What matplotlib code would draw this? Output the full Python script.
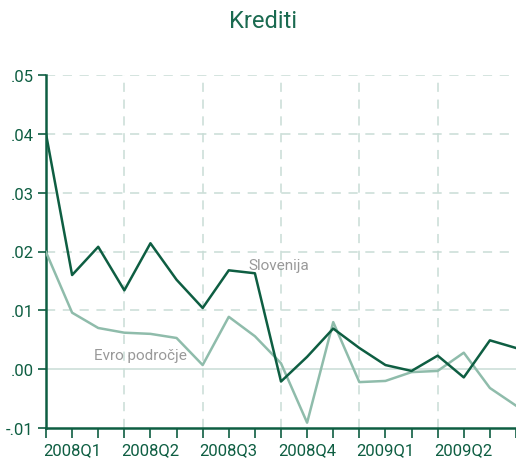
import matplotlib.pyplot as plt
import numpy as np

# monthly data, Jan 2008 .. Jul 2009
months = ['2008-01', '2008-02', '2008-03', '2008-04', '2008-05', '2008-06',
          '2008-07', '2008-08', '2008-09', '2008-10', '2008-11', '2008-12',
          '2009-01', '2009-02', '2009-03', '2009-04', '2009-05', '2009-06',
          '2009-07']
slovenija = [0.0400, 0.0160, 0.0208, 0.0134, 0.0214, 0.0152, 0.0104, 0.0168,
             0.0163, -0.0021, 0.0021, 0.0069, 0.0036, 0.0007, -0.0003,
             0.0023, -0.0014, 0.0049, 0.0036]
evro = [0.0199, 0.0096, 0.0070, 0.0062, 0.0060, 0.0053, 0.0007, 0.0089,
        0.0056, 0.0010, -0.0091, 0.0080, -0.0022, -0.0020, -0.0005,
        -0.0003, 0.0028, -0.0032, -0.0062]
quarters = ['2008Q1', '2008Q2', '2008Q3', '2008Q4', '2009Q1', '2009Q2']
yticks = [-0.01, 0.0, 0.01, 0.02, 0.03, 0.04, 0.05]
ylabels = ['-.01', '.00', '.01', '.02', '.03', '.04', '.05']

dark = '#0e5e42'
light = '#8fbcab'
grid = '#c9ddd6'

plt.rcParams['font.family'] = ['Roboto', 'DejaVu Sans']

fig = plt.figure(figsize=(5.16, 4.60), dpi=100)
ax = fig.add_axes([46 / 516, 31 / 460, 470 / 516, 353 / 460])

x = np.arange(len(months))

# grid
for yv in yticks[2:]:
    ax.axhline(yv, color=grid, lw=1.1, ls=(0, (6, 5)), zorder=1)
ax.axhline(0, color=grid, lw=1.1, zorder=1)
for q in range(1, len(quarters)):
    ax.axvline(3 * q, color=grid, lw=1.1, ls=(0, (6, 5)), zorder=1)

ax.plot(x, evro, color=light, lw=1.8, zorder=3)
ax.plot(x, slovenija, color=dark, lw=1.8, zorder=4)

ax.text(8.9, 0.0177, 'Slovenija', color='#999999', fontsize=11, ha='center', va='center')
ax.text(3.6, 0.0024, 'Evro področje', color='#999999', fontsize=11, ha='center', va='center')

ax.set_xlim(0, len(months) - 1)
ax.set_ylim(-0.01, 0.05)
ax.set_yticks(yticks)
ax.set_yticklabels(ylabels)
ax.set_xticks(x, minor=True)
ax.set_xticks([3 * q + 1 for q in range(len(quarters))])
ax.set_xticklabels(quarters)

for side in ['top', 'right']:
    ax.spines[side].set_visible(False)
for side in ['left', 'bottom']:
    ax.spines[side].set_color(dark)
    ax.spines[side].set_linewidth(1.8)

ax.tick_params(axis='both', colors=dark, labelcolor=dark, labelsize=12, width=1.2)
ax.tick_params(axis='x', which='major', length=7, pad=3)
ax.tick_params(axis='x', which='minor', length=7, width=1.2, color=dark)
ax.tick_params(axis='y', length=6, pad=3)

fig.suptitle('Krediti', x=0.51, y=0.978, color='#1a6a50', fontsize=17)

fig.savefig('out.png', dpi=100)
